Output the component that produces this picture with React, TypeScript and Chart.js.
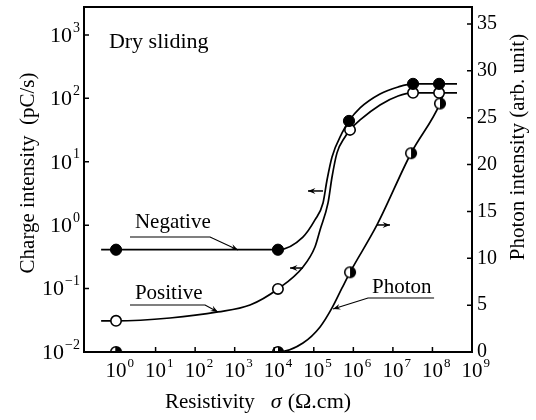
import React, { useEffect, useRef } from 'react';
import { Chart, registerables } from 'chart.js';

Chart.register(...registerables);

// ---- tick values and labels (labels are 10 raised to the exponent shown) ----
const xTickValues = [1, 1e1, 1e2, 1e3, 1e4, 1e5, 1e6, 1e7, 1e8, 1e9];
const xTickExponents = ['0', '1', '2', '3', '4', '5', '6', '7', '8', '9'];
const leftTickValues = [1e-2, 1e-1, 1, 1e1, 1e2, 1e3];
const leftTickExponents = ['−2', '−1', '0', '1', '2', '3'];
const rightTickValues = [0, 5, 10, 15, 20, 25, 30, 35];

// ---- measured points (markers) ----
const negativeX = [1, 1.24e4, 7.76e5, 3.23e7, 1.47e8];
const negativeY = [0.41, 0.41, 44, 169, 169];
const positiveX = [1, 1.24e4, 8.24e5, 3.23e7, 1.47e8];
const positiveY = [0.031, 0.0986, 31.8, 122, 122];
const photonX = [1, 1.24e4, 8.24e5, 2.87e7, 1.55e8];
const photonY = [0, 0, 8.5, 21.2, 26.5];

// ---- drawn curves ----
const negativeCurveX = [0.42, 1, 1.24e4, 5.3e4, 1.07e5, 1.71e5, 2.16e5, 2.89e5, 5.18e5, 7.76e5, 1.48e6, 4.72e6, 1.35e7, 3.23e7, 1.47e8, 4.18e8];
const negativeCurveY = [0.41, 0.41, 0.41, 0.65, 1.21, 2.24, 5.16, 11.9, 28.4, 44, 70.6, 117, 151, 169, 169, 169];
const positiveCurveX = [0.42, 1, 23.1, 378, 2440, 1.24e4, 5.33e4, 1.07e5, 1.44e5, 2.29e5, 2.89e5, 3.86e5, 6.15e5, 8.24e5, 1.48e6, 4.72e6, 1.35e7, 3.23e7, 1.47e8, 4.18e8];
const positiveCurveY = [0.031, 0.031, 0.0344, 0.0428, 0.0551, 0.0986, 0.219, 0.453, 0.84, 2.24, 5.75, 13.8, 24.6, 31.8, 45.6, 78.7, 109, 122, 122, 122];
const photonCurveX = [1, 1.24e4, 5.33e4, 1.44e5, 2.89e5, 5.18e5, 8.24e5, 3.96e6, 2.87e7, 1.55e8, 1.85e8];
const photonCurveY = [0, 0, 0.96, 2.67, 4.7, 6.83, 8.5, 13.55, 21.2, 26.5, 27.4];

const FONT = "'Liberation Serif', 'Times New Roman', serif";

const pts = (xs: number[], ys: number[]) => xs.map((x, i) => ({ x, y: ys[i] }));

function halfMarker(): HTMLCanvasElement {
  const c = document.createElement('canvas');
  c.width = 14;
  c.height = 14;
  const g = c.getContext('2d')!;
  g.beginPath();
  g.arc(7, 7, 5.3, 0, Math.PI * 2);
  g.fillStyle = '#fff';
  g.fill();
  g.beginPath();
  g.arc(7, 7, 5.3, -Math.PI / 2, Math.PI / 2);
  g.closePath();
  g.fillStyle = '#000';
  g.fill();
  g.beginPath();
  g.arc(7, 7, 5.3, 0, Math.PI * 2);
  g.lineWidth = 1.6;
  g.strokeStyle = '#000';
  g.stroke();
  return c;
}

function arrow(ctx: CanvasRenderingContext2D, path: number[][]) {
  ctx.beginPath();
  ctx.moveTo(path[0][0], path[0][1]);
  for (let i = 1; i < path.length; i++) ctx.lineTo(path[i][0], path[i][1]);
  ctx.stroke();
  const [x2, y2] = path[path.length - 1];
  const [x1, y1] = path[path.length - 2];
  const ang = Math.atan2(y2 - y1, x2 - x1);
  const L = 8;
  const w = 0.38;
  ctx.beginPath();
  ctx.moveTo(x2, y2);
  ctx.lineTo(x2 - L * Math.cos(ang - w), y2 - L * Math.sin(ang - w));
  ctx.lineTo(x2 - L * 0.6 * Math.cos(ang), y2 - L * 0.6 * Math.sin(ang));
  ctx.lineTo(x2 - L * Math.cos(ang + w), y2 - L * Math.sin(ang + w));
  ctx.closePath();
  ctx.fill();
}

// draws "10" with a raised exponent; anchor: 'right' => whole label ends at x, 'base' => "10" centred at x
function drawPow(ctx: CanvasRenderingContext2D, exp: string, x: number, y: number, size: number, anchor: 'right' | 'base') {
  const big = `${size}px ${FONT}`;
  const small = `${Math.round(size * 0.64)}px ${FONT}`;
  ctx.font = big;
  const wb = ctx.measureText('10').width;
  ctx.font = small;
  const we = ctx.measureText(exp).width;
  const left = anchor === 'right' ? x - wb - we - 1 : x - wb / 2;
  ctx.textAlign = 'left';
  ctx.textBaseline = 'middle';
  ctx.font = big;
  ctx.fillText('10', left, y);
  ctx.font = small;
  ctx.fillText(exp, left + wb + 1, y - size * 0.36);
}

const noPad = (s: any) => {
  s.paddingTop = 0;
  s.paddingBottom = 0;
  s.paddingLeft = 0;
  s.paddingRight = 0;
};

const overlay = {
  id: 'overlay',
  afterDatasetsDraw(chart: any) {
    const { ctx, chartArea: a, scales } = chart;
    const sx = scales.x, sy = scales.y, sr = scales.y1;
    const X = (v: number) => sx.getPixelForValue(v);
    const YL = (v: number) => sy.getPixelForValue(v);
    const YR = (v: number) => sr.getPixelForValue(v);
    ctx.save();
    ctx.strokeStyle = '#000';
    ctx.fillStyle = '#000';
    // frame
    ctx.lineWidth = 2;
    ctx.strokeRect(a.left, a.top, a.right - a.left, a.bottom - a.top);
    // inner ticks
    ctx.lineWidth = 1.5;
    ctx.beginPath();
    xTickValues.forEach((v) => {
      const p = X(v);
      ctx.moveTo(p, a.bottom);
      ctx.lineTo(p, a.bottom - 5);
    });
    leftTickValues.forEach((v) => {
      const p = YL(v);
      ctx.moveTo(a.left, p);
      ctx.lineTo(a.left + 5, p);
    });
    rightTickValues.forEach((v) => {
      const p = YR(v);
      ctx.moveTo(a.right, p);
      ctx.lineTo(a.right - 5, p);
    });
    ctx.stroke();

    // power-of-ten tick labels
    xTickValues.forEach((v, i) => drawPow(ctx, xTickExponents[i], X(v), a.bottom + 19, 21, 'base'));
    leftTickValues.forEach((v, i) => drawPow(ctx, leftTickExponents[i], a.left - 4, YL(v) + 1, 22, 'right'));

    // annotations text
    ctx.textAlign = 'left';
    ctx.textBaseline = 'alphabetic';
    ctx.font = `22px ${FONT}`;
    ctx.fillText('Dry sliding', X(0.66), YL(624));
    ctx.font = `21px ${FONT}`;
    ctx.fillText('Negative', X(3.0), YL(0.9));
    ctx.fillText('Positive', X(3.0), YL(0.0686));
    ctx.fillText('Photon', X(2.96e6), YR(6.3));

    // leader lines and arrows
    ctx.lineWidth = 1.2;
    arrow(ctx, [[X(2.25), YL(0.651)], [X(238), YL(0.651)], [X(1213), YL(0.406)]]);
    arrow(ctx, [[X(2.25), YL(0.0551)], [X(178), YL(0.0551)], [X(378), YL(0.0428)]]);
    arrow(ctx, [[X(1.1e8), YR(5.76)], [X(2.35e6), YR(5.76)], [X(3.06e5), YR(4.59)]]);
    ctx.lineWidth = 1.5;
    arrow(ctx, [[X(1.71e5), YL(3.46)], [X(7.14e4), YL(3.46)]]);
    arrow(ctx, [[X(5.33e4), YL(0.211)], [X(2.51e4), YL(0.211)]]);
    arrow(ctx, [[X(3.96e6), YR(13.55)], [X(8.45e6), YR(13.55)]]);
    ctx.restore();
  },
  afterDraw(chart: any) {
    const { ctx, chartArea: a } = chart;
    ctx.save();
    ctx.fillStyle = '#000';
    ctx.font = `21px ${FONT}`;
    ctx.textBaseline = 'middle';
    ctx.textAlign = 'center';
    // left title
    ctx.save();
    ctx.translate(a.left - 56, 173);
    ctx.rotate(-Math.PI / 2);
    ctx.fillText('Charge intensity  (pC/s)', 0, 0);
    ctx.restore();
    // right title
    ctx.save();
    ctx.translate(a.right + 46, 147);
    ctx.rotate(-Math.PI / 2);
    ctx.fillText('Photon intensity (arb. unit)', 0, 0);
    ctx.restore();
    // bottom title
    ctx.textAlign = 'left';
    ctx.textBaseline = 'alphabetic';
    const by = a.bottom + 56;
    let bx = 165;
    ctx.font = `21px ${FONT}`;
    ctx.fillText('Resistivity', bx, by);
    bx += ctx.measureText('Resistivity').width + 16;
    ctx.font = `italic 22px ${FONT}`;
    ctx.fillText('σ', bx, by);
    bx += ctx.measureText('σ').width + 6;
    ctx.font = `22px ${FONT}`;
    ctx.fillText('(Ω.cm)', bx, by);
    ctx.restore();
  },
};

export default function App() {
  const ref = useRef<HTMLCanvasElement>(null);
  useEffect(() => {
    if (!ref.current) return;
    const half = halfMarker();
    const lineBase = { borderColor: '#000', borderWidth: 1.7, pointRadius: 0, cubicInterpolationMode: 'monotone' as const, order: 2 };
    const chart = new Chart(ref.current, {
      type: 'line',
      data: {
        datasets: [
          { label: 'Negative', data: pts(negativeX, negativeY), yAxisID: 'y', showLine: false, pointStyle: 'circle', pointRadius: 5.6, backgroundColor: '#000', borderColor: '#000', borderWidth: 1, order: 0 },
          { label: 'Positive', data: pts(positiveX, positiveY), yAxisID: 'y', showLine: false, pointStyle: 'circle', pointRadius: 5.2, backgroundColor: '#fff', borderColor: '#000', borderWidth: 1.6, order: 0 },
          { label: 'Photon', data: pts(photonX, photonY), yAxisID: 'y1', showLine: false, pointStyle: half as any, pointRadius: 6, order: 0 },
          { label: 'Negative curve', data: pts(negativeCurveX, negativeCurveY), yAxisID: 'y', ...lineBase },
          { label: 'Positive curve', data: pts(positiveCurveX, positiveCurveY), yAxisID: 'y', ...lineBase },
          { label: 'Photon curve', data: pts(photonCurveX, photonCurveY), yAxisID: 'y1', ...lineBase },
        ] as any,
      },
      options: {
        animation: false,
        responsive: true,
        maintainAspectRatio: false,
        layout: { padding: { top: 7, left: 0, right: 0, bottom: 0 } },
        plugins: { legend: { display: false }, tooltip: { enabled: false }, title: { display: false } },
        scales: {
          x: {
            type: 'logarithmic',
            position: 'bottom',
            min: Math.pow(10, -0.81),
            max: 1e9,
            afterBuildTicks: (s: any) => { s.ticks = xTickValues.map((v) => ({ value: v })); },
            afterFit: (s: any) => { s.height = 68; noPad(s); },
            grid: { display: false, drawTicks: false },
            border: { display: false },
            ticks: { display: false },
          },
          y: {
            type: 'logarithmic',
            position: 'left',
            min: 0.01,
            max: Math.pow(10, 3.44),
            afterBuildTicks: (s: any) => { s.ticks = leftTickValues.map((v) => ({ value: v })); },
            afterFit: (s: any) => { s.width = 84; noPad(s); },
            grid: { display: false, drawTicks: false },
            border: { display: false },
            ticks: { display: false },
          },
          y1: {
            type: 'linear',
            position: 'right',
            min: 0,
            max: 36.8,
            afterBuildTicks: (s: any) => { s.ticks = rightTickValues.map((v) => ({ value: v })); },
            afterFit: (s: any) => { s.width = 64; noPad(s); },
            grid: { display: false, drawTicks: false },
            border: { display: false },
            ticks: { callback: (v: any) => String(v), font: { family: FONT, size: 20 }, color: '#000', padding: 5, autoSkip: false },
          },
        },
      } as any,
      plugins: [overlay],
    });
    return () => chart.destroy();
  }, []);
  return (
    <div style={{ position: 'fixed', left: 0, top: 0, width: 536, height: 420, background: '#fff' }}>
      <canvas ref={ref} />
    </div>
  );
}
